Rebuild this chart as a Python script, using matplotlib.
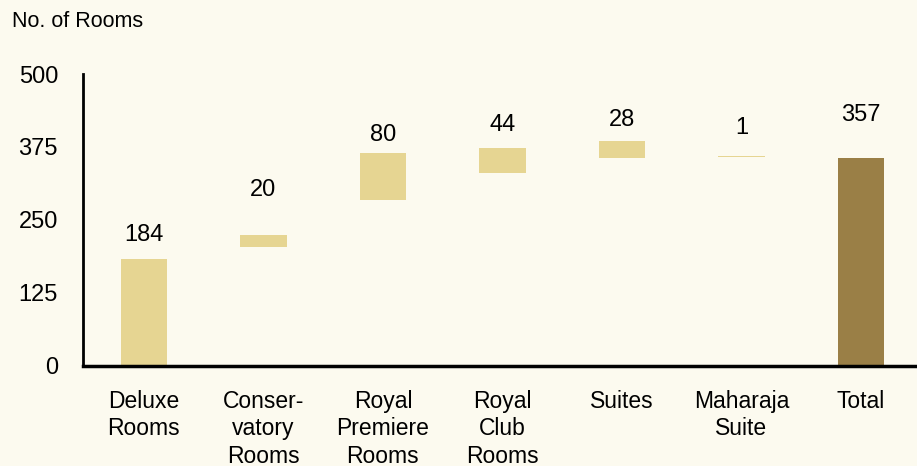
import numpy as np
import matplotlib.pyplot as plt

plt.rcParams['font.family'] = ['Liberation Sans', 'DejaVu Sans']

categories = ["Deluxe\nRooms", "Conser-\nvatory\nRooms", "Royal\nPremiere\nRooms",
              "Royal\nClub\nRooms", "Suites", "Maharaja\nSuite", "Total"]
rooms = [184, 20, 80, 44, 28, 1, 357]
# where each floating bar starts (as drawn in the source chart)
bar_base = [0, 204, 284, 330, 357, 358, 0]
y_ticks = [0, 125, 250, 375, 500]

# label heights as placed in the source chart
label_y = [224, 301, 396, 413, 421, 408, 430]

LIGHT = "#E6D592"
DARK = "#9A7F46"
BG = "#FCFAEF"

fig = plt.figure(figsize=(9.17, 4.66), dpi=100, facecolor=BG)
ax = fig.add_axes([0.0905, 0.2146, 0.9095, 0.6266], facecolor=BG)

x = np.arange(len(categories))
colors = [LIGHT] * (len(rooms) - 1) + [DARK]
ax.bar(x, rooms, bottom=bar_base, width=0.39, color=colors, zorder=2)

for xi, v, ly in zip(x, rooms, label_y):
    ax.text(xi, ly, str(v), ha='center', va='center', fontsize=17, color='black')

ax.set_xlim(-0.51, 6.47)
ax.set_ylim(0, 500)
ax.set_yticks(y_ticks)
ax.set_yticklabels([str(t) for t in y_ticks], fontsize=17)
ax.set_xticks(x)
ax.set_xticklabels(categories, fontsize=16.5, linespacing=1.25)
ax.tick_params(axis='y', length=0, pad=18)
ax.tick_params(axis='x', length=0, pad=17)

for s in ['top', 'right']:
    ax.spines[s].set_visible(False)
ax.spines['left'].set_linewidth(2)
ax.spines['bottom'].set_linewidth(2.5)

fig.text(0.013, 0.953, "No. of Rooms", fontsize=15.5, ha='left', va='center')

plt.savefig("out.png", dpi=100, facecolor=BG)
